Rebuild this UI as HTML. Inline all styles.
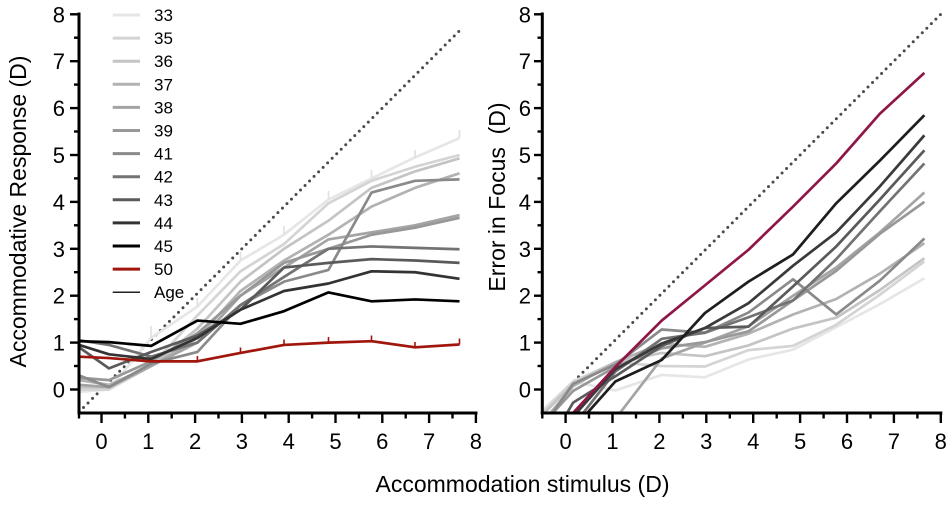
<!DOCTYPE html>
<html>
<head>
<meta charset="utf-8">
<style>
  html,body{margin:0;padding:0;background:#fff;}
  svg{display:block;}
  text{font-family:"Liberation Sans",Arial,sans-serif;fill:#000;}
</style>
</head>
<body>
<svg width="952" height="506" viewBox="0 0 952 506" xmlns="http://www.w3.org/2000/svg">
  <defs>
    <clipPath id="rc"><rect x="542" y="0" width="410" height="413"/></clipPath>
  </defs>

  <!-- ================= LEFT PANEL ================= -->
  <line x1="79" y1="412" x2="459.5" y2="30.7" stroke="#4a4a4a" stroke-width="3" stroke-linecap="round" stroke-dasharray="0 6.4"/>

  <g transform="translate(101.5 389.5) scale(46.8 -46.9)" fill="none" stroke-width="2.7" stroke-linejoin="round">
    <polyline vector-effect="non-scaling-stroke" stroke="#e6e6e6" points="-0.48,-0.05 0.16,0 1.06,1.1 2.05,1.77 2.97,2.75 3.9,3.3 4.85,4.05 5.77,4.5 6.7,4.95 7.65,5.36"/>
    <polyline vector-effect="non-scaling-stroke" stroke="#d4d4d4" points="-0.48,0 0.16,0 1.06,0.5 2.05,1.58 2.97,2.52 3.9,3.1 4.85,3.97 5.77,4.45 6.7,4.75 7.65,5.0"/>
    <polyline vector-effect="non-scaling-stroke" stroke="#c4c4c4" points="-0.48,0.05 0.16,0.05 1.06,0.5 2.05,1.3 2.97,2.3 3.9,3.0 4.85,3.6 5.77,4.3 6.7,4.65 7.65,4.93"/>
    <polyline vector-effect="non-scaling-stroke" stroke="#b2b2b2" points="-0.48,0.2 0.16,0.1 1.06,0.5 2.05,1.1 2.97,2.1 3.9,2.75 4.85,3.3 5.77,3.9 6.7,4.3 7.65,4.61"/>
    <polyline vector-effect="non-scaling-stroke" stroke="#a4a4a4" points="-0.48,0.1 0.16,0.05 1.06,0.5 2.05,1.0 2.97,2.0 3.9,2.6 4.85,3.2 5.77,3.35 6.7,3.5 7.65,3.72"/>
    <polyline vector-effect="non-scaling-stroke" stroke="#989898" points="-0.48,0.25 0.16,0.2 1.06,0.6 2.05,1.2 2.97,2.0 3.9,2.7 4.85,3.0 5.77,3.3 6.7,3.45 7.65,3.66"/>
    <polyline vector-effect="non-scaling-stroke" stroke="#8a8a8a" points="-0.48,0.3 0.16,0.05 1.06,0.55 2.05,0.8 2.97,1.8 3.9,2.3 4.85,2.55 5.77,4.2 6.7,4.45 7.65,4.48"/>
    <polyline vector-effect="non-scaling-stroke" stroke="#737373" points="-0.48,1.05 0.16,0.95 1.06,0.7 2.05,1.0 2.97,1.8 3.9,2.4 4.85,3.0 5.77,3.05 6.7,3.02 7.65,2.99"/>
    <polyline vector-effect="non-scaling-stroke" stroke="#5a5a5a" points="-0.48,0.9 0.16,0.45 1.06,0.8 2.05,1.15 2.97,1.7 3.9,2.6 4.85,2.7 5.77,2.78 6.7,2.75 7.65,2.7"/>
    <polyline vector-effect="non-scaling-stroke" stroke="#333333" points="-0.48,0.95 0.16,0.75 1.06,0.65 2.05,1.1 2.97,1.7 3.9,2.1 4.85,2.26 5.77,2.52 6.7,2.5 7.65,2.36"/>
    <polyline vector-effect="non-scaling-stroke" stroke="#000000" points="-0.48,1.03 0.16,1.01 1.06,0.93 2.05,1.47 2.97,1.4 3.9,1.67 4.85,2.07 5.77,1.88 6.7,1.92 7.65,1.88"/>
    <polyline vector-effect="non-scaling-stroke" stroke="#a0160c" points="-0.48,0.7 0.16,0.67 1.06,0.6 2.05,0.6 2.97,0.78 3.9,0.95 4.85,1.0 5.77,1.03 6.7,0.9 7.65,0.96"/>
  </g>
  <g stroke="#a0160c" stroke-width="1.6">
    <line x1="197.4" y1="361.4" x2="197.4" y2="356"/>
    <line x1="240.5" y1="352.9" x2="240.5" y2="347.5"/>
    <line x1="284" y1="344.9" x2="284" y2="339.5"/>
    <line x1="328.5" y1="342.6" x2="328.5" y2="337"/>
    <line x1="371.5" y1="341.2" x2="371.5" y2="335.5"/>
    <line x1="415" y1="347.3" x2="415" y2="342"/>
    <line x1="459.5" y1="344.5" x2="459.5" y2="338.5"/>
  </g>
  <g stroke="#e0e0e0" stroke-width="1.6">
    <line x1="151" y1="338" x2="151" y2="326"/>
    <line x1="197.4" y1="306" x2="197.4" y2="298"/>
    <line x1="240.5" y1="260" x2="240.5" y2="252"/>
    <line x1="284" y1="234" x2="284" y2="226"/>
    <line x1="328.5" y1="199" x2="328.5" y2="191"/>
    <line x1="371.5" y1="178" x2="371.5" y2="170"/>
    <line x1="415" y1="158" x2="415" y2="150"/>
    <line x1="459.5" y1="138" x2="459.5" y2="130"/>
  </g>

  <g stroke="#000" stroke-width="3" fill="none">
    <line x1="79" y1="12.5" x2="79" y2="414.5"/>
    <line x1="77.5" y1="413" x2="477.5" y2="413"/>
  </g>
  <g stroke="#000" stroke-width="2.4">
    <line x1="70" y1="389.5" x2="79" y2="389.5"/>
    <line x1="70" y1="342.6" x2="79" y2="342.6"/>
    <line x1="70" y1="295.7" x2="79" y2="295.7"/>
    <line x1="70" y1="248.8" x2="79" y2="248.8"/>
    <line x1="70" y1="201.9" x2="79" y2="201.9"/>
    <line x1="70" y1="155" x2="79" y2="155"/>
    <line x1="70" y1="108.1" x2="79" y2="108.1"/>
    <line x1="70" y1="61.2" x2="79" y2="61.2"/>
    <line x1="70" y1="14.3" x2="79" y2="14.3"/>
    <line x1="74" y1="366" x2="79" y2="366"/>
    <line x1="74" y1="319.1" x2="79" y2="319.1"/>
    <line x1="74" y1="272.2" x2="79" y2="272.2"/>
    <line x1="74" y1="225.3" x2="79" y2="225.3"/>
    <line x1="74" y1="178.4" x2="79" y2="178.4"/>
    <line x1="74" y1="131.5" x2="79" y2="131.5"/>
    <line x1="74" y1="84.6" x2="79" y2="84.6"/>
    <line x1="74" y1="37.7" x2="79" y2="37.7"/>
    <line x1="101.5" y1="413" x2="101.5" y2="423"/>
    <line x1="148.3" y1="413" x2="148.3" y2="423"/>
    <line x1="195.1" y1="413" x2="195.1" y2="423"/>
    <line x1="241.9" y1="413" x2="241.9" y2="423"/>
    <line x1="288.7" y1="413" x2="288.7" y2="423"/>
    <line x1="335.5" y1="413" x2="335.5" y2="423"/>
    <line x1="382.3" y1="413" x2="382.3" y2="423"/>
    <line x1="429.1" y1="413" x2="429.1" y2="423"/>
    <line x1="475.9" y1="413" x2="475.9" y2="423"/>
    <line x1="79" y1="413" x2="79" y2="418.5"/>
    <line x1="124.9" y1="413" x2="124.9" y2="418.5"/>
    <line x1="171.7" y1="413" x2="171.7" y2="418.5"/>
    <line x1="218.5" y1="413" x2="218.5" y2="418.5"/>
    <line x1="265.3" y1="413" x2="265.3" y2="418.5"/>
    <line x1="312.1" y1="413" x2="312.1" y2="418.5"/>
    <line x1="358.9" y1="413" x2="358.9" y2="418.5"/>
    <line x1="405.7" y1="413" x2="405.7" y2="418.5"/>
    <line x1="452.5" y1="413" x2="452.5" y2="418.5"/>
  </g>
  <g font-size="22" text-anchor="end">
    <text x="65" y="397.5">0</text>
    <text x="65" y="350.6">1</text>
    <text x="65" y="303.7">2</text>
    <text x="65" y="256.8">3</text>
    <text x="65" y="209.9">4</text>
    <text x="65" y="163">5</text>
    <text x="65" y="116.1">6</text>
    <text x="65" y="69.2">7</text>
    <text x="65" y="22.3">8</text>
  </g>
  <g font-size="22" text-anchor="middle">
    <text x="101.5" y="449">0</text>
    <text x="148.3" y="449">1</text>
    <text x="195.1" y="449">2</text>
    <text x="241.9" y="449">3</text>
    <text x="288.7" y="449">4</text>
    <text x="335.5" y="449">5</text>
    <text x="382.3" y="449">6</text>
    <text x="429.1" y="449">7</text>
    <text x="475.9" y="449">8</text>
  </g>
  <text font-size="23" text-anchor="middle" transform="translate(26 211.5) rotate(-90)">Accommodative Response (D)</text>

  <g stroke-width="3">
    <line x1="112.7" y1="15" x2="140" y2="15" stroke="#e6e6e6"/>
    <line x1="112.7" y1="38.1" x2="140" y2="38.1" stroke="#d4d4d4"/>
    <line x1="112.7" y1="61.2" x2="140" y2="61.2" stroke="#c4c4c4"/>
    <line x1="112.7" y1="84.3" x2="140" y2="84.3" stroke="#b2b2b2"/>
    <line x1="112.7" y1="107.4" x2="140" y2="107.4" stroke="#a4a4a4"/>
    <line x1="112.7" y1="130.5" x2="140" y2="130.5" stroke="#989898"/>
    <line x1="112.7" y1="153.6" x2="140" y2="153.6" stroke="#8a8a8a"/>
    <line x1="112.7" y1="176.7" x2="140" y2="176.7" stroke="#737373"/>
    <line x1="112.7" y1="199.8" x2="140" y2="199.8" stroke="#5a5a5a"/>
    <line x1="112.7" y1="222.9" x2="140" y2="222.9" stroke="#333333"/>
    <line x1="112.7" y1="246" x2="140" y2="246" stroke="#000000"/>
    <line x1="112.7" y1="269.1" x2="140" y2="269.1" stroke="#a0160c"/>
    <line x1="112.7" y1="292.2" x2="140" y2="292.2" stroke="#222" stroke-width="1.5"/>
  </g>
  <g font-size="17">
    <text x="154" y="21">33</text>
    <text x="154" y="44.1">35</text>
    <text x="154" y="67.2">36</text>
    <text x="154" y="90.3">37</text>
    <text x="154" y="113.4">38</text>
    <text x="154" y="136.5">39</text>
    <text x="154" y="159.6">41</text>
    <text x="154" y="182.7">42</text>
    <text x="154" y="205.8">43</text>
    <text x="154" y="228.9">44</text>
    <text x="154" y="252">45</text>
    <text x="154" y="275.1">50</text>
    <text x="154" y="298.2">Age</text>
  </g>

  <!-- ================= RIGHT PANEL ================= -->
  <line x1="542.3" y1="413" x2="941" y2="14" stroke="#4a4a4a" stroke-width="3" stroke-linecap="round" stroke-dasharray="0 6.4"/>

  <g clip-path="url(#rc)">
    <g transform="translate(565.6 389.5) scale(46.9 -46.9)" fill="none" stroke-width="2.7" stroke-linejoin="round">
      <polyline vector-effect="non-scaling-stroke" stroke="#e6e6e6" points="-0.48,-0.43 0.16,0.17 1.06,-0.02 2.05,0.31 2.97,0.26 3.9,0.64 4.85,0.85 5.77,1.33 6.7,1.82 7.65,2.37"/>
      <polyline vector-effect="non-scaling-stroke" stroke="#d4d4d4" points="-0.48,-0.48 0.16,0.17 1.06,0.58 2.05,0.5 2.97,0.49 3.9,0.84 4.85,0.93 5.77,1.38 6.7,2.02 7.65,2.73"/>
      <polyline vector-effect="non-scaling-stroke" stroke="#c4c4c4" points="-0.48,-0.53 0.16,0.12 1.06,0.58 2.05,0.78 2.97,0.71 3.9,0.94 4.85,1.3 5.77,1.53 6.7,2.12 7.65,2.8"/>
      <polyline vector-effect="non-scaling-stroke" stroke="#b2b2b2" points="-0.48,-0.68 0.16,0.07 1.06,0.58 2.05,0.98 2.97,0.91 3.9,1.19 4.85,1.6 5.77,1.93 6.7,2.47 7.65,3.12"/>
      <polyline vector-effect="non-scaling-stroke" stroke="#a4a4a4" points="0.16,-1.8 1.06,-0.63 2.05,0.66 2.97,1.0 3.9,1.35 4.85,2.0 5.77,2.6 6.7,3.35 7.65,4.2"/>
      <polyline vector-effect="non-scaling-stroke" stroke="#989898" points="-0.48,-0.73 0.16,-0.03 1.06,0.48 2.05,0.88 2.97,1.01 3.9,1.24 4.85,1.9 5.77,2.53 6.7,3.32 7.65,4.0"/>
      <polyline vector-effect="non-scaling-stroke" stroke="#8a8a8a" points="-0.48,-0.78 0.16,0.12 1.06,0.53 2.05,1.28 2.97,1.21 3.9,1.64 4.85,2.35 5.77,1.6 6.7,2.32 7.65,3.22"/>
      <polyline vector-effect="non-scaling-stroke" stroke="#737373" points="-0.48,-1.53 0.16,-0.78 1.06,0.38 2.05,1.08 2.97,1.21 3.9,1.54 4.85,1.9 5.77,2.78 6.7,3.8 7.65,4.82"/>
      <polyline vector-effect="non-scaling-stroke" stroke="#5a5a5a" points="-0.48,-1.38 0.16,-0.28 1.06,0.28 2.05,0.93 2.97,1.31 3.9,1.34 4.85,2.2 5.77,3.05 6.7,4.05 7.65,5.1"/>
      <polyline vector-effect="non-scaling-stroke" stroke="#3a3a3a" points="-0.48,-1.43 0.16,-0.58 1.06,0.43 2.05,0.98 2.97,1.31 3.9,1.84 4.85,2.64 5.77,3.35 6.7,4.33 7.65,5.42"/>
      <polyline vector-effect="non-scaling-stroke" stroke="#1e1e1e" points="-0.48,-1.51 0.16,-0.84 1.06,0.17 2.05,0.63 2.97,1.63 3.9,2.3 4.85,2.88 5.77,3.97 6.7,4.88 7.65,5.85"/>
      <polyline vector-effect="non-scaling-stroke" stroke="#8f1748" points="-0.48,-1.18 0.16,-0.5 1.06,0.48 2.05,1.47 2.97,2.22 3.9,2.98 4.85,3.9 5.77,4.82 6.7,5.88 7.65,6.75"/>
    </g>
  </g>

  <g stroke="#000" stroke-width="3" fill="none">
    <line x1="542.3" y1="12.5" x2="542.3" y2="414.5"/>
    <line x1="540.8" y1="413" x2="942.3" y2="413"/>
  </g>
  <g stroke="#000" stroke-width="2.4">
    <line x1="534" y1="389.5" x2="542.3" y2="389.5"/>
    <line x1="534" y1="342.6" x2="542.3" y2="342.6"/>
    <line x1="534" y1="295.7" x2="542.3" y2="295.7"/>
    <line x1="534" y1="248.8" x2="542.3" y2="248.8"/>
    <line x1="534" y1="201.9" x2="542.3" y2="201.9"/>
    <line x1="534" y1="155" x2="542.3" y2="155"/>
    <line x1="534" y1="108.1" x2="542.3" y2="108.1"/>
    <line x1="534" y1="61.2" x2="542.3" y2="61.2"/>
    <line x1="534" y1="14.3" x2="542.3" y2="14.3"/>
    <line x1="537.5" y1="366" x2="542.3" y2="366"/>
    <line x1="537.5" y1="319.1" x2="542.3" y2="319.1"/>
    <line x1="537.5" y1="272.2" x2="542.3" y2="272.2"/>
    <line x1="537.5" y1="225.3" x2="542.3" y2="225.3"/>
    <line x1="537.5" y1="178.4" x2="542.3" y2="178.4"/>
    <line x1="537.5" y1="131.5" x2="542.3" y2="131.5"/>
    <line x1="537.5" y1="84.6" x2="542.3" y2="84.6"/>
    <line x1="537.5" y1="37.7" x2="542.3" y2="37.7"/>
    <line x1="565.6" y1="413" x2="565.6" y2="423"/>
    <line x1="612.5" y1="413" x2="612.5" y2="423"/>
    <line x1="659.4" y1="413" x2="659.4" y2="423"/>
    <line x1="706.3" y1="413" x2="706.3" y2="423"/>
    <line x1="753.2" y1="413" x2="753.2" y2="423"/>
    <line x1="800.1" y1="413" x2="800.1" y2="423"/>
    <line x1="847" y1="413" x2="847" y2="423"/>
    <line x1="893.9" y1="413" x2="893.9" y2="423"/>
    <line x1="940.8" y1="413" x2="940.8" y2="423"/>
    <line x1="542.3" y1="413" x2="542.3" y2="418.5"/>
    <line x1="589" y1="413" x2="589" y2="418.5"/>
    <line x1="636" y1="413" x2="636" y2="418.5"/>
    <line x1="682.9" y1="413" x2="682.9" y2="418.5"/>
    <line x1="729.8" y1="413" x2="729.8" y2="418.5"/>
    <line x1="776.7" y1="413" x2="776.7" y2="418.5"/>
    <line x1="823.6" y1="413" x2="823.6" y2="418.5"/>
    <line x1="870.5" y1="413" x2="870.5" y2="418.5"/>
    <line x1="917.4" y1="413" x2="917.4" y2="418.5"/>
  </g>
  <g font-size="22" text-anchor="end">
    <text x="531" y="397.5">0</text>
    <text x="531" y="350.6">1</text>
    <text x="531" y="303.7">2</text>
    <text x="531" y="256.8">3</text>
    <text x="531" y="209.9">4</text>
    <text x="531" y="163">5</text>
    <text x="531" y="116.1">6</text>
    <text x="531" y="69.2">7</text>
    <text x="531" y="22.3">8</text>
  </g>
  <g font-size="22" text-anchor="middle">
    <text x="565.6" y="449">0</text>
    <text x="612.5" y="449">1</text>
    <text x="659.4" y="449">2</text>
    <text x="706.3" y="449">3</text>
    <text x="753.2" y="449">4</text>
    <text x="800.1" y="449">5</text>
    <text x="847" y="449">6</text>
    <text x="893.9" y="449">7</text>
    <text x="940.8" y="449">8</text>
  </g>
  <text font-size="23" text-anchor="middle" xml:space="preserve" transform="translate(505 197) rotate(-90)">Error in Focus  (D)</text>

  <text font-size="23" text-anchor="middle" x="522.5" y="492">Accommodation stimulus (D)</text>
</svg>
</body>
</html>
